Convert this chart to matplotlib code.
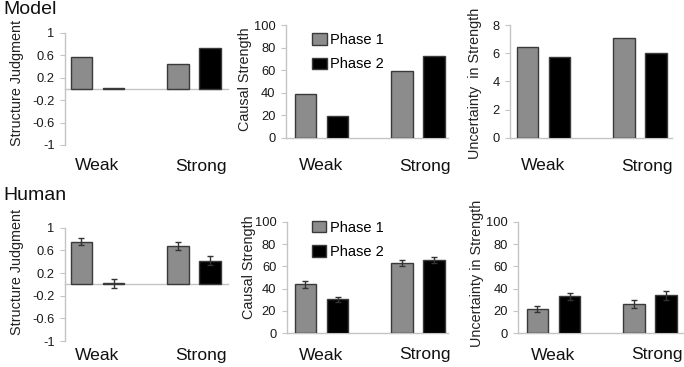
import matplotlib
matplotlib.use("Agg")
import matplotlib.pyplot as plt
import matplotlib.transforms as mtransforms

plt.rcParams['font.family'] = ['Liberation Sans', 'DejaVu Sans']

# ---------------- data ----------------
groups = ["Weak", "Strong"]
phases = ["Phase 1", "Phase 2"]

model_structure_p1 = [0.57, 0.45]
model_structure_p2 = [0.02, 0.74]
model_causal_p1 = [39, 59]
model_causal_p2 = [19, 72.5]
model_uncert_p1 = [6.45, 7.05]
model_uncert_p2 = [5.75, 6.0]

human_structure_p1 = [0.75, 0.67]
human_structure_p2 = [0.02, 0.42]
human_structure_err_p1 = [0.06, 0.07]
human_structure_err_p2 = [0.08, 0.08]
human_causal_p1 = [44, 63]
human_causal_p2 = [30.3, 65.8]
human_causal_err_p1 = [3.3, 2.7]
human_causal_err_p2 = [2.1, 3.0]
human_uncert_p1 = [21.8, 26]
human_uncert_p2 = [33, 34]
human_uncert_err_p1 = [3.0, 3.4]
human_uncert_err_p2 = [3.3, 4.2]

structure_ticks = [-1, -0.6, -0.2, 0.2, 0.6, 1]
structure_ticklabels = ["-1", "-0.6", "-0.2", "0.2", "0.6", "1"]
causal_ticks = [0, 20, 40, 60, 80, 100]
model_uncert_ticks = [0, 2, 4, 6, 8]
human_uncert_ticks = [0, 20, 40, 60, 80, 100]

# ---------------- layout ----------------
W, H = 684, 367
fig = plt.figure(figsize=(W / 100, H / 100), dpi=100)

GRAY = "#8c8c8c"
EDGE = "#3a3a3a"
SPINE = "#c4c4c4"
SPACING = 96.5  # px between group centres
OFF = 0.166
BW = 0.225


def px_axes(l, t, r, b):
    return fig.add_axes([l / W, 1 - b / H, (r - l) / W, (b - t) / H])


def panel(rect, left_px, p1, p2, ylim, ticks, ticklabels, ylabel, ylabel_xy,
          label_y, err1=None, err2=None, legend_xy=None, strong_shift=0.07):
    ax = px_axes(*rect)
    width_px = rect[2] - rect[0]
    x0 = -left_px / SPACING
    ax.set_xlim(x0, x0 + width_px / SPACING)
    ax.set_ylim(*ylim)
    xs = list(range(len(groups)))
    ekw = dict(ecolor="#333333", elinewidth=1.0, capsize=2.5, capthick=1.0)
    ax.bar([x - OFF for x in xs], p1, BW, color=GRAY, edgecolor=EDGE,
           linewidth=1.0, label=phases[0], yerr=err1, error_kw=ekw, zorder=2)
    ax.bar([x + OFF for x in xs], p2, BW, color="black", edgecolor=EDGE,
           linewidth=1.0, label=phases[1], yerr=err2, error_kw=ekw, zorder=2)
    for s in ["top", "right"]:
        ax.spines[s].set_visible(False)
    ax.spines["bottom"].set_position(("data", 0))
    ax.spines["left"].set_bounds(ylim[0], ylim[1])
    for s in ["left", "bottom"]:
        ax.spines[s].set_color(SPINE)
        ax.spines[s].set_linewidth(1.0)
    ax.spines["bottom"].set_zorder(1)
    ax.set_xticks([])
    ax.set_yticks(ticks)
    ax.set_yticklabels(ticklabels)
    ax.tick_params(axis="y", direction="out", length=3.5, width=0.8,
                   color=SPINE, labelsize=9.3, pad=4.0, labelcolor="#1a1a1a")
    fig.text(ylabel_xy[0] / W, 1 - ylabel_xy[1] / H, ylabel, rotation=90,
             ha="center", va="center", fontsize=10.4, color="#222222")
    tr = mtransforms.blended_transform_factory(ax.transData, fig.transFigure)
    for i, g in enumerate(groups):
        ax.text(i + (strong_shift if i == 1 else 0), 1 - label_y / H, g,
                transform=tr, ha="center", va="center", fontsize=12.6,
                color="#111111")
    if legend_xy is not None:
        ax.legend(loc="upper left",
                  bbox_to_anchor=(legend_xy[0] / W, 1 - legend_xy[1] / H),
                  bbox_transform=fig.transFigure, frameon=False,
                  fontsize=10.5, handlelength=1.0, handleheight=0.85,
                  handletextpad=0.25, labelspacing=0.72, borderpad=0,
                  borderaxespad=0)
    return ax


# Model row
fig.text(3 / W, 1 - 10 / H, "Model", fontsize=14, ha="left", va="center",
         color="#111111")
panel((65, 33, 228, 145), 32.5, model_structure_p1, model_structure_p2,
      (-1, 1), structure_ticks, structure_ticklabels, "Structure Judgment",
      (17, 83), 166)
panel((286, 25, 448, 137.7), 35.5, model_causal_p1, model_causal_p2,
      (0, 100), causal_ticks, [str(t) for t in causal_ticks],
      "Causal Strength", (245, 79), 166, legend_xy=(312, 33))
panel((510, 25, 672, 137.7), 33.5, model_uncert_p1, model_uncert_p2,
      (0, 8), model_uncert_ticks, [str(t) for t in model_uncert_ticks],
      "Uncertainty  in Strength", (475, 83), 166)

# Human row
fig.text(3 / W, 1 - 195 / H, "Human", fontsize=14, ha="left", va="center",
         color="#111111")
panel((65, 227.7, 228, 341), 32.5, human_structure_p1, human_structure_p2,
      (-1, 1), structure_ticks, structure_ticklabels, "Structure Judgment",
      (17, 272), 355.5, err1=human_structure_err_p1,
      err2=human_structure_err_p2)
panel((286.7, 221.7, 448, 333.3), 34.8, human_causal_p1, human_causal_p2,
      (0, 100), causal_ticks, [str(t) for t in causal_ticks],
      "Causal Strength", (249, 267), 355, err1=human_causal_err_p1,
      err2=human_causal_err_p2, legend_xy=(311.5, 220.5))
panel((518.3, 221.7, 690, 333.3), 35.2, human_uncert_p1, human_uncert_p2,
      (0, 100), human_uncert_ticks, [str(t) for t in human_uncert_ticks],
      "Uncertainty in Strength", (477, 273), 355, err1=human_uncert_err_p1,
      err2=human_uncert_err_p2)

fig.savefig("out.png", dpi=100)
